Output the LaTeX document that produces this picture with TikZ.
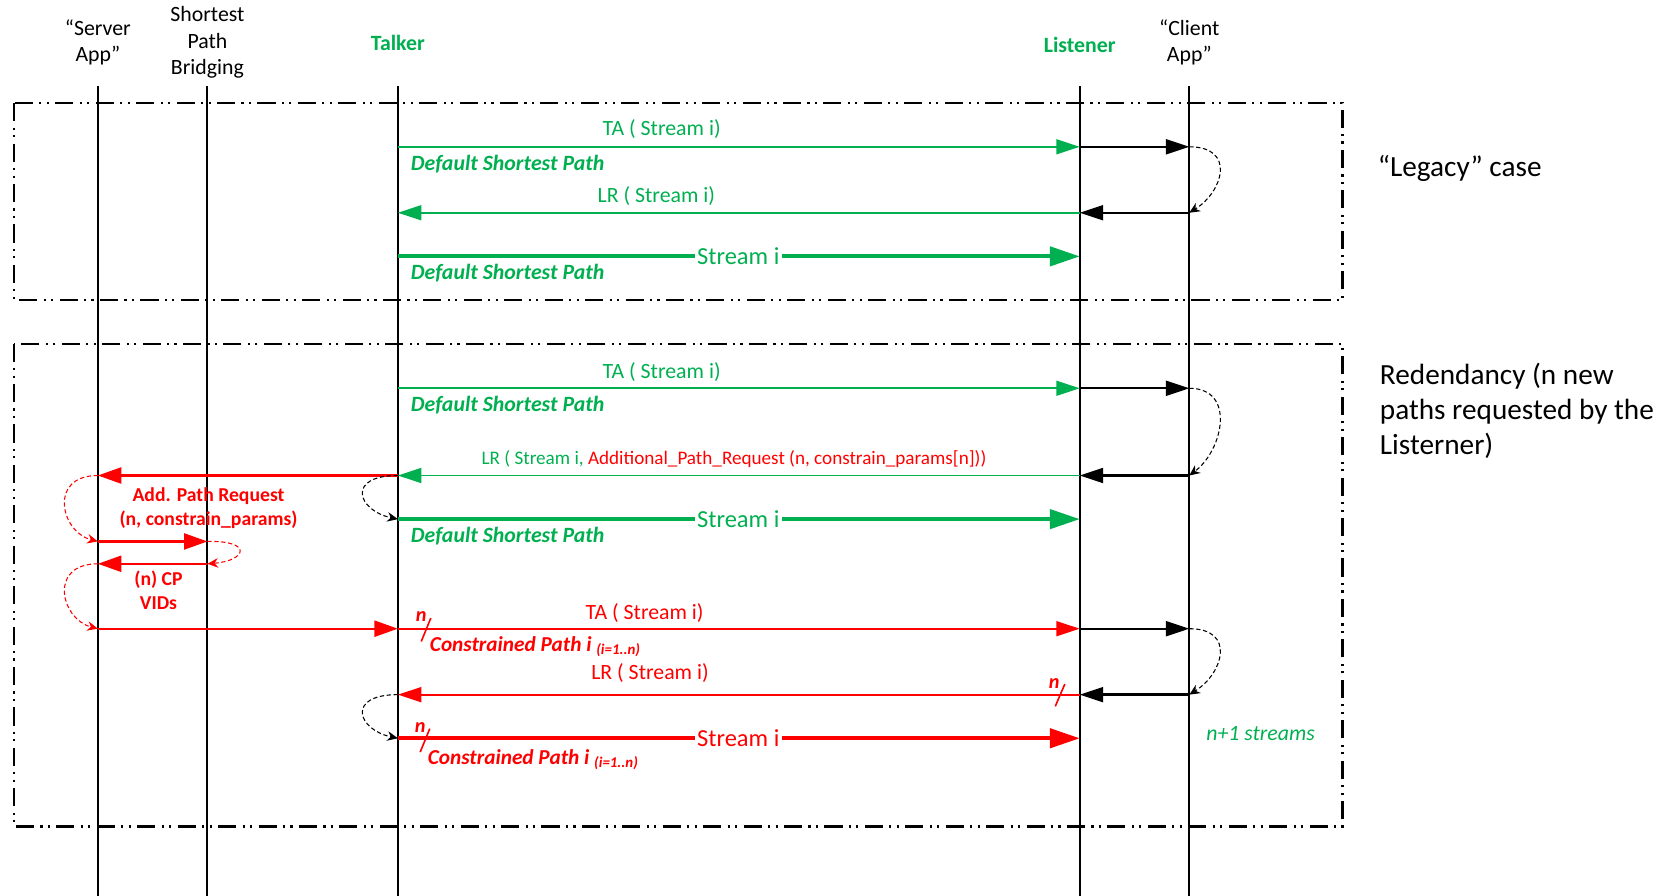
\documentclass[tikz,border=0pt]{standalone}
\usepackage{fontspec}
\setmainfont{Carlito}
\usetikzlibrary{arrows.meta}
\definecolor{og}{HTML}{00B050}
\definecolor{rd}{HTML}{FF0000}
\begin{document}
\begin{tikzpicture}[x=1pt,y=-1pt,
  lifeline/.style={line width=1.8pt},
  frame/.style={line width=2pt,dash pattern=on 17pt off 6pt on 2pt off 5pt on 2pt off 6pt},
  gmsg/.style={og,line width=1.6pt,-{Triangle[length=22pt,width=14pt]}},
  bmsg/.style={black,line width=2.2pt,-{Triangle[length=22pt,width=14pt]}},
  rmsg/.style={rd,line width=2.2pt,-{Triangle[length=22pt,width=15pt]}},
  rthin/.style={rd,line width=1.8pt,-{Triangle[length=22pt,width=14pt]}},
  smsg/.style={line width=3.6pt,-{Triangle[length=28pt,width=18pt]}},
  loopback/.style={line width=1pt,dash pattern=on 4pt off 2.5pt,-{Stealth[length=10pt,width=9pt]}},
  txt/.style={inner sep=0pt,outer sep=0pt,font=\fontsize{20.5}{24.5}\selectfont},
  hdr/.style={txt,align=center},
  who/.style={inner sep=0pt,og,font=\fontsize{20.5}{24.5}\selectfont\bfseries},
  dsp/.style={inner sep=0pt,anchor=west,og,font=\fontsize{20.5}{24.5}\selectfont\bfseries\itshape},
  cpath/.style={inner sep=0pt,anchor=west,rd,font=\fontsize{20}{24}\selectfont\bfseries\itshape},
  sl/.style={inner xsep=2pt,inner ysep=0pt,fill=white,font=\fontsize{23}{27}\selectfont},
  side/.style={inner sep=0pt,anchor=west,align=left,font=\fontsize{27.5}{33}\selectfont},
  rbold/.style={inner sep=0pt,rd,align=center,font=\fontsize{18.5}{22.5}\selectfont\bfseries},
  nmark/.style={inner sep=0pt,rd,font=\fontsize{19}{22}\selectfont\bfseries\itshape},
  slash/.style={rd,line width=1.5pt},
]
\useasboundingbox (0,0) rectangle (1568,842);

% lifeline coordinates
\foreach \r/\yy in {0/81,z/842,a/138,b/200,c/241,d/365,e/447,f/488,g/509,h/530,i/591,j/653,k/694}{
  \coordinate (S\r) at (92,\yy);
  \coordinate (B\r) at (195,\yy);
  \coordinate (T\r) at (374,\yy);
  \coordinate (L\r) at (1015,\yy);
  \coordinate (C\r) at (1118,\yy);
}

% frames
\draw[frame] (13,97) rectangle (1262,282);
\draw[frame] (13,323) rectangle (1262,777);

% headers
\node[hdr] (hS) at (92,40) {“Server\\App”};
\node[hdr,font=\fontsize{20.5}{25}\selectfont] (hB) at (195,40) {Shortest\\Path\\Bridging};
\node[who] (hT) at (374,40) {Talker};
\node[who] (hL) at (1015,42) {Listener};
\node[hdr] (hC) at (1118,40) {“Client\\App”};

% lifelines
\draw[lifeline] (S0) -- (Sz);
\draw[lifeline] (B0) -- (Bz);
\draw[lifeline] (T0) -- (Tz);
\draw[lifeline] (L0) -- (Lz);
\draw[lifeline] (C0) -- (Cz);

% ---- legacy case ----
\draw[gmsg] (Ta) -- (La);
\draw[bmsg] (La) -- (Ca);
\draw[loopback] (Ca) .. controls +(44,0) and +(32,-20) .. (Cb);
\draw[bmsg] (Cb) -- (Lb);
\draw[gmsg] (Lb) -- (Tb);
\draw[smsg,og] (Tc) -- (Lc);

\node[txt,og] (ta1) at (622,121.5) {TA ( Stream i)};
\node[dsp] (dsp1) at (386,154) {Default Shortest Path};
\node[txt,og] (lr1) at (617,184.5) {LR ( Stream i)};
\node[sl,text=og] (s1) at (694,241) {Stream i};
\node[dsp] (dsp2) at (386,257) {Default Shortest Path};
\node[side] (legacy) at (1295,158) {“Legacy” case};

% ---- redundancy case ----
\draw[gmsg] (Td) -- (Ld);
\draw[bmsg] (Ld) -- (Cd);
\draw[loopback] (Cd) .. controls +(44,0) and +(32,-24) .. (Ce);
\draw[bmsg] (Ce) -- (Le);
\draw[gmsg] (Le) -- (Te);
\draw[rmsg] (Te) -- (Se);
\draw[loopback] (Te) .. controls +(-49,0) and +(-38,-8) .. (Tf);
\draw[smsg,og] (Tf) -- (Lf);

\draw[loopback,rd] (Se) .. controls +(-47,0) and +(-35,-9) .. (Sg);
\draw[rmsg] (Sg) -- (Bg);
\draw[loopback,rd] (Bg) .. controls +(43,-1) and +(37,-3) .. (Bh);
\draw[rmsg] (Bh) -- (Sh);
\draw[loopback,rd] (Sh) .. controls +(-47,0) and +(-35,-9) .. (Si);
\draw[rmsg] (Si) -- (Ti);

\draw[rthin] (Ti) -- (Li);
\draw[bmsg] (Li) -- (Ci);
\draw[loopback] (Ci) .. controls +(44,0) and +(32,-20) .. (Cj);
\draw[bmsg] (Cj) -- (Lj);
\draw[rthin] (Lj) -- (Tj);
\draw[loopback] (Tj) .. controls +(-49,0) and +(-38,-8) .. (Tk);
\draw[smsg,rd] (Tk) -- (Lk);

% slash marks
\draw[slash] (396,603) -- (405,581);
\node[nmark] (n1) at (396,580) {n};
\draw[slash] (992,664) -- (1001,643);
\node[nmark] (n2) at (991,643) {n};
\draw[slash] (395,707) -- (404,685);
\node[nmark] (n3) at (395,684) {n};

\node[txt,og] (ta2) at (622,349.5) {TA ( Stream i)};
\node[dsp] (dsp3) at (386,381) {Default Shortest Path};
\node[inner sep=0pt,font=\fontsize{18}{22}\selectfont] (lr2) at (690,431.5)
  {\textcolor{og}{LR ( Stream i, }\textcolor{rd}{Additional\_Path\_Request (n, constrain\_params[n]))}};
\node[sl,text=og] (s2) at (694,488) {Stream i};
\node[dsp] (dsp4) at (386,504) {Default Shortest Path};

\node[rbold] (apr) at (196,478) {Add. Path Request\\(n, constrain\_params)};
\node[rbold] (cpv) at (149,555) {(n) CP\\VIDs};

\node[txt,rd] (ta3) at (606,576.5) {TA ( Stream i)};
\node[cpath] (cp1) at (404,608) {Constrained Path i \raisebox{-3pt}{\fontsize{14}{16}\selectfont (i=1..n)}};
\node[txt,rd] (lr3) at (611,632.5) {LR ( Stream i)};
\node[sl,text=rd] (s3) at (694,694) {Stream i};
\node[cpath] (cp2) at (402,714) {Constrained Path i \raisebox{-3pt}{\fontsize{14}{16}\selectfont (i=1..n)}};

\node[txt,og,font=\fontsize{20.5}{24.5}\selectfont\itshape] (np1) at (1185,689.5) {n+1 streams};
\node[side] (redund) at (1297,386) {Redendancy (n new\\paths requested by the\\Listerner)};
\end{tikzpicture}
\end{document}
